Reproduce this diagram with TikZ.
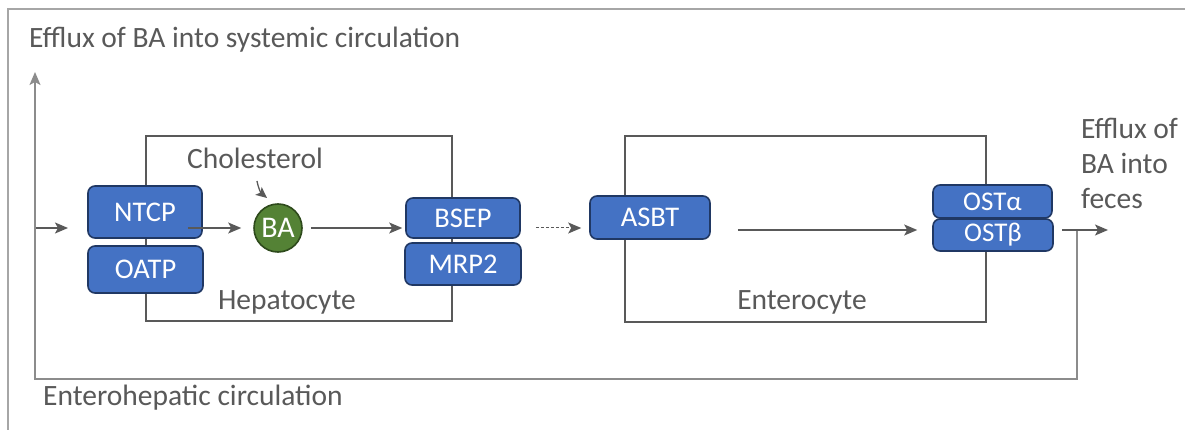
\documentclass[tikz,border=0pt]{standalone}
\usepackage{fontspec}
\setmainfont{Carlito}
\usetikzlibrary{arrows.meta,calc}
\definecolor{tgray}{HTML}{595959}
\definecolor{fgray}{HTML}{A6A6A6}
\definecolor{cgray}{HTML}{8C8C8C}
\definecolor{tblue}{HTML}{4472C4}
\definecolor{tnavy}{HTML}{203864}
\definecolor{tgreen}{HTML}{548235}
\definecolor{tdgreen}{HTML}{2E4A1C}
\tikzset{
  trans/.style={draw=tnavy,line width=1.6pt,fill=tblue,rounded corners=7pt,text=white,
    font=\fontsize{28.5}{32}\selectfont,inner sep=0pt},
  cell/.style={draw=tgray,line width=1.8pt},
  lbl/.style={text=tgray,font=\fontsize{29.5}{35}\selectfont,inner sep=0pt},
  arr/.style={draw=tgray,line width=1.3pt,-{Stealth[length=13pt,width=11pt,inset=3pt]}},
  circ/.style={draw=cgray,line width=1.5pt},
  frame/.style={draw=fgray,line width=2pt}
}
\begin{document}
\begin{tikzpicture}[x=1pt,y=-1pt]
\useasboundingbox (0,0) rectangle (1185,430);
\fill[white] (0,0) rectangle (1185,430);
% outer frame
\draw[frame] (8,430) -- (8,9) -- (1185,9);
% cells
\draw[cell] (146,136) rectangle (452,321);
\draw[cell] (625,136) rectangle (986,322);
% transporters
\node[trans,minimum width=114pt,minimum height=52pt] (ntcp) at (145,212) {NTCP};
\node[trans,minimum width=115pt,minimum height=47pt] (oatp) at (145.5,269.5) {OATP};
\node[trans,minimum width=114pt,minimum height=40pt] (bsep) at (463,218) {BSEP};
\node[trans,minimum width=116pt,minimum height=42pt] (mrp) at (463,264) {MRP2};
\node[trans,minimum width=120pt,minimum height=43pt] (asbt) at (650,217.5) {ASBT};
\node[trans,minimum width=119pt,minimum height=33pt,font=\fontsize{27}{30}\selectfont] (osta) at (992.5,201.5) {OSTα};
\node[trans,minimum width=120pt,minimum height=32pt,font=\fontsize{27}{30}\selectfont] (ostb) at (993,235) {OSTβ};
% bile acid
\node[circle,draw=tdgreen,line width=1.6pt,fill=tgreen,minimum size=48pt,inner sep=0pt,
  text=white,font=\fontsize{30}{32}\selectfont] (ba) at (278,228) {BA};
% labels
\node[lbl,anchor=west] (sys) at (29,40) {Efflux of BA into systemic circulation};
\node[lbl] (chol) at (255,158) {Cholesterol};
\node[lbl] (hep) at (287,302) {Hepatocyte};
\node[lbl] (ent) at (802,302) {Enterocyte};
\node[lbl,anchor=north west,align=left] (fec) at (1081,118) {Efflux of\\BA into\\feces};
\node[lbl,anchor=west] (ehc) at (43,398) {Enterohepatic circulation};
% coordinates
\coordinate (inl) at (35,228);
\coordinate (top) at (35,72);
\coordinate (bl) at (35,379);
\coordinate (br) at (1077,379);
\coordinate (bj) at (1077,230);
\coordinate (exs) at (1062,230);
\coordinate (exe) at (1108,230);
% arrows
\draw[arr] (inl) -- (68,228);
\draw[circ,-{Stealth[length=13pt,width=11pt,inset=3pt]}] (bj) -- (br) -- (bl) -- (top);
\draw[arr] (exs) -- (exe);
\draw[arr] ([xshift=-15pt]ntcp.east |- ba.west) -- ([xshift=-12pt]ba.west);
\draw[arr] ([xshift=8pt]ba.east) -- ([xshift=-3pt]bsep.west |- ba.east);
\draw[arr,densely dashed,line width=1pt] ([xshift=14pt]mrp.east |- ba.east) -- ([xshift=-8pt]asbt.west |- ba.east);
\draw[arr] ([xshift=27pt]asbt.east |- exs) -- ([xshift=-15pt]ostb.west |- exs);
\draw[arr,line width=1.3pt,-{Stealth[length=11pt,width=10pt,inset=2.5pt]}] (257,181) to[bend right=20] (267,198);
\end{tikzpicture}
\end{document}
